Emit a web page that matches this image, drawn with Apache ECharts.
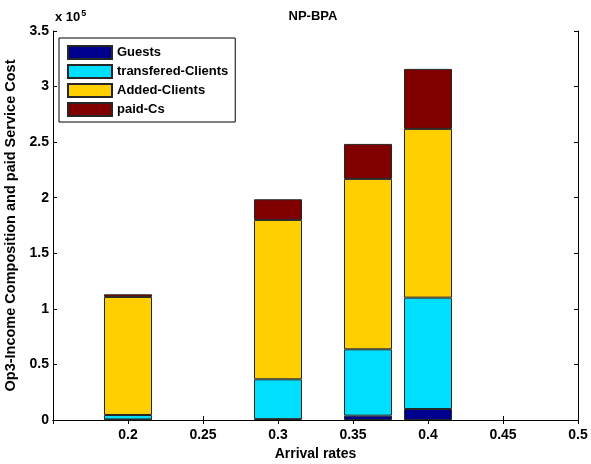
<!DOCTYPE html>
<html>
<head>
<meta charset="utf-8">
<script src="https://cdn.jsdelivr.net/npm/echarts@6/dist/echarts.min.js"></script>
<style>
html,body{margin:0;padding:0;background:#fff;}
#chart{width:591px;height:464px;}
</style>
</head>
<body>
<div id="chart"></div>
<script>
// Data
var arrivalRates = [0.2, 0.3, 0.36, 0.4];
var guests = [500, 800, 3900, 9900];
var transferedClients = [4000, 35800, 59700, 100200];
var addedClients = [106200, 143400, 153300, 151800];
var paidCs = [2400, 18600, 31500, 54000];
var seriesNames = ['Guests', 'transfered-Clients', 'Added-Clients', 'paid-Cs'];
var seriesColors = ['#00008F', '#00DFFF', '#FFCF00', '#800000'];
var xTicks = [0.2, 0.25, 0.3, 0.35, 0.4, 0.45, 0.5];

var FONT = '"Liberation Sans", Arial, Helvetica, sans-serif';
var values = [guests, transferedClients, addedClients, paidCs];

function mk(i) {
  return {
    name: seriesNames[i],
    type: 'bar',
    stack: 'total',
    barWidth: 48,
    xAxisIndex: 0,
    yAxisIndex: 0,
    encode: { x: 1, y: 0 },
    data: values[i].map(function (v, k) { return [v, arrivalRates[k]]; }),
    itemStyle: { color: seriesColors[i], borderColor: '#262626', borderWidth: 1 },
    emphasis: { disabled: true },
    animation: false
  };
}

var chart = echarts.init(document.getElementById('chart'), null, { renderer: 'canvas' });
var axisLineStyle = { color: '#000', width: 1 };
var xFmt = function (v) {
  if (Math.abs(v - 0.15) < 1e-6) return '';
  return String(+v.toFixed(2));
};
chart.setOption({
  animation: false,
  backgroundColor: '#fff',
  title: {
    text: 'NP-BPA',
    left: 308, top: 5,
    textAlign: 'center',
    textStyle: { fontFamily: FONT, fontSize: 13, fontWeight: 'bold', color: '#000' }
  },
  legend: {
    orient: 'vertical',
    left: 59, top: 38,
    padding: [7, 7, 5, 8],
    itemWidth: 44, itemHeight: 13, itemGap: 4,
    icon: 'rect',
    backgroundColor: '#fff',
    borderColor: '#000', borderWidth: 1,
    data: seriesNames,
    textStyle: { fontFamily: FONT, fontSize: 13, fontWeight: 'bold', color: '#000' }
  },
  grid: { left: 53, right: 13, top: 31, bottom: 44, containLabel: false, outerBoundsMode: 'none' },
  xAxis: [{
    type: 'value', min: 0.15, max: 0.5, interval: 0.05, position: 'bottom',
    name: 'Arrival rates', nameLocation: 'middle', nameGap: 27,
    nameTextStyle: { fontFamily: FONT, fontSize: 14, fontWeight: 'bold', color: '#000' },
    axisLine: { show: true, lineStyle: axisLineStyle },
    axisTick: { show: true, inside: true, length: 4, lineStyle: axisLineStyle },
    axisLabel: { formatter: xFmt, margin: 8, fontFamily: FONT, fontSize: 14, fontWeight: 'bold', color: '#000' },
    splitLine: { show: false }
  }, {
    type: 'value', min: 0.15, max: 0.5, interval: 0.05, position: 'top',
    axisLine: { show: true, lineStyle: axisLineStyle },
    axisTick: { show: true, inside: true, length: 4, lineStyle: axisLineStyle },
    axisLabel: { show: false }, splitLine: { show: false }
  }],
  yAxis: [{
    type: 'value', min: 0, max: 350000, interval: 50000, position: 'left',
    name: 'Op3-Income Composition and paid Service Cost', nameLocation: 'middle', nameGap: 32,
    nameTextStyle: { fontFamily: FONT, fontSize: 14.5, fontWeight: 'bold', color: '#000' },
    axisLine: { show: true, lineStyle: axisLineStyle },
    axisTick: { show: true, inside: true, length: 4, lineStyle: axisLineStyle },
    axisLabel: { formatter: function (v) { return String(+(v / 1e5).toFixed(1)); }, margin: 4, fontFamily: FONT, fontSize: 14, fontWeight: 'bold', color: '#000' },
    splitLine: { show: false }
  }, {
    type: 'value', min: 0, max: 350000, interval: 50000, position: 'right',
    axisLine: { show: true, lineStyle: axisLineStyle },
    axisTick: { show: true, inside: true, length: 4, lineStyle: axisLineStyle },
    axisLabel: { show: false }, splitLine: { show: false }
  }],
  graphic: [{
    type: 'text', left: 55, top: 9,
    style: {
      text: 'x 10{s|5}',
      font: 'bold 13px ' + FONT,
      fill: '#000',
      rich: { s: { font: 'bold 9px ' + FONT, fill: '#000', verticalAlign: 'top', padding: [0, 0, 8, 1] } }
    }
  }],
  series: [mk(0), mk(1), mk(2), mk(3)]
});
</script>
</body>
</html>
